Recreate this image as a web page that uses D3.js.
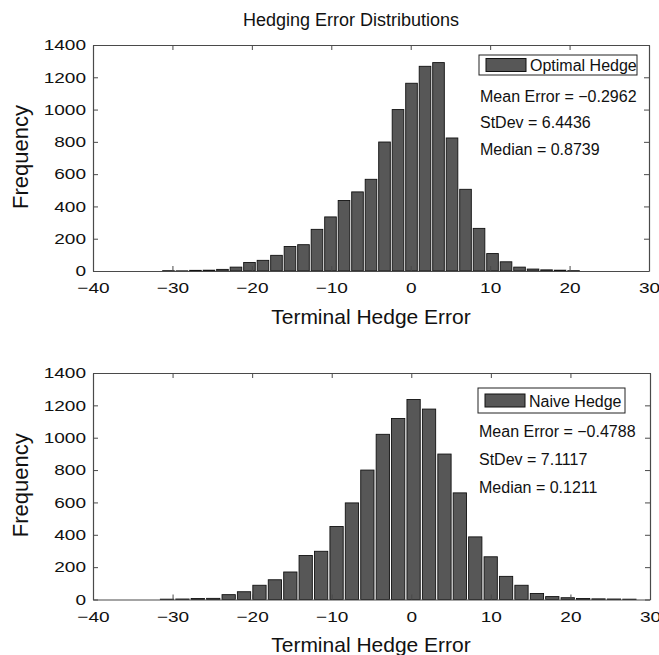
<!DOCTYPE html>
<html>
<head>
<meta charset="utf-8">
<script src="https://cdn.jsdelivr.net/npm/d3@7"></script>
<style>
  body { margin: 0; background: #fff; overflow: hidden; }
  svg text { font-family: "Liberation Sans", Arial, Helvetica, sans-serif; fill: #111; }
</style>
</head>
<body>
<div id="chart"></div>
<script>
// bin centres and counts
var optimalCenters = [-30.5, -28.8, -27.1, -25.4, -23.7, -22.0, -20.3, -18.6, -16.9, -15.2,
                      -13.5, -11.8, -10.1, -8.4, -6.7, -5.0, -3.3, -1.6, 0.1, 1.8,
                      3.5, 5.2, 6.9, 8.6, 10.3, 12.0, 13.7, 15.4, 17.1, 18.8, 20.5];
var optimalCounts = [2, 1, 4, 5, 10, 24, 53, 66, 97, 152,
                     163, 258, 335, 437, 490, 568, 799, 1000, 1163, 1268,
                     1291, 824, 506, 264, 108, 57, 24, 12, 7, 5, 2];

var naiveCenters = [-30.7, -28.76, -26.83, -24.89, -22.95, -21.02, -19.08, -17.14, -15.2, -13.27,
                    -11.33, -9.39, -7.46, -5.52, -3.58, -1.65, 0.29, 2.23, 4.17, 6.1,
                    8.04, 9.98, 11.91, 13.85, 15.79, 17.72, 19.66, 21.6, 23.53, 25.47, 27.41];
var naiveCounts = [2, 3, 6, 7, 30, 48, 88, 122, 170, 272,
                   298, 451, 597, 800, 1021, 1119, 1236, 1177, 899, 659,
                   387, 264, 143, 88, 37, 18, 11, 6, 4, 3, 2];

var xTicks = [-40, -30, -20, -10, 0, 10, 20, 30];
var yTicks = [0, 200, 400, 600, 800, 1000, 1200, 1400];

var optimalStats = ["Mean Error = \u22120.2962", "StDev = 6.4436", "Median = 0.8739"];
var naiveStats = ["Mean Error = \u22120.4788", "StDev = 7.1117", "Median = 0.1211"];

var svgWidth = 659,
    svgHeight = 655;

var svg = d3.select('#chart')
  .append('svg')
  .attr('width', svgWidth)
  .attr('height', svgHeight);

svg.append('text')
  .attr('x', 351)
  .attr('y', 26)
  .attr('text-anchor', 'middle')
  .attr('font-size', '18px')
  .text('Hedging Error Distributions');

function fmt(d) {
  return d < 0 ? '\u2212' + Math.abs(d) : String(d);
}

// tick labels in the original are drawn wider than normal
var stretch = 1.27;

function panel(opts) {
  var left = opts.left, right = opts.right, top = opts.top, bottom = opts.bottom;

  var x = d3.scaleLinear().domain([-40, 30]).range([left, right]);
  var y = d3.scaleLinear().domain([0, 1400]).range([bottom, top]);

  var g = svg.append('g');

  // bars
  var binW = opts.centers[1] - opts.centers[0];
  var barW = binW * 0.86;
  g.append('g')
    .selectAll('rect')
    .data(opts.counts)
    .enter()
    .append('rect')
    .attr('x', function(d, i) { return x(opts.centers[i] - barW / 2); })
    .attr('width', function(d, i) { return x(opts.centers[i] + barW / 2) - x(opts.centers[i] - barW / 2); })
    .attr('y', function(d) { return y(d); })
    .attr('height', function(d) { return bottom - y(d); })
    .attr('fill', '#575757')
    .attr('stroke', '#111')
    .attr('stroke-width', 0.9);

  // axes, ticks pointing inward like matlab
  var axisColor = '#4a4a4a';
  var bx = g.append('g').attr('transform', 'translate(0,' + bottom + ')')
    .call(d3.axisBottom(x).tickValues(xTicks).tickSizeInner(-5).tickSizeOuter(0).tickPadding(11.5).tickFormat(fmt));
  var tx = g.append('g').attr('transform', 'translate(0,' + top + ')')
    .call(d3.axisTop(x).tickValues(xTicks).tickSizeInner(-5).tickSizeOuter(0).tickFormat(''));
  var ly = g.append('g').attr('transform', 'translate(' + left + ',0)')
    .call(d3.axisLeft(y).tickValues(yTicks).tickSizeInner(-5).tickSizeOuter(0).tickFormat(d3.format('d')));
  var ry = g.append('g').attr('transform', 'translate(' + right + ',0)')
    .call(d3.axisRight(y).tickValues(yTicks).tickSizeInner(-5).tickSizeOuter(0).tickFormat(''));

  [bx, tx, ly, ry].forEach(function(a) {
    a.select('.domain').attr('stroke', axisColor).attr('stroke-width', 1.2);
    a.selectAll('.tick line').attr('stroke', axisColor);
    a.selectAll('.tick text').attr('font-size', '15px').attr('fill', '#111')
      .attr('font-family', '"Liberation Sans", Arial, sans-serif');
  });
  bx.selectAll('.tick text').attr('transform', 'scale(' + stretch + ',1)');
  ly.selectAll('.tick text')
    .attr('x', 0)
    .attr('transform', 'translate(-7,0) scale(' + stretch + ',1)');

  // axis labels
  g.append('text')
    .attr('x', 371)
    .attr('y', bottom + 52.5)
    .attr('text-anchor', 'middle')
    .attr('font-size', '21px')
    .text('Terminal Hedge Error');

  g.append('text')
    .attr('transform', 'translate(28,' + ((top + bottom) / 2 - 1) + ') rotate(-90)')
    .attr('text-anchor', 'middle')
    .attr('font-size', '22px')
    .text('Frequency');

  // legend
  var L = opts.legend;
  var lg = g.append('g').attr('transform', 'translate(' + L[0] + ',' + L[1] + ')');
  lg.append('rect')
    .attr('x', 0).attr('y', 0)
    .attr('width', L[2]).attr('height', L[3])
    .attr('fill', '#fff').attr('stroke', '#222').attr('stroke-width', 1);
  lg.append('rect')
    .attr('x', 7).attr('y', (L[3] - 13) / 2)
    .attr('width', 40).attr('height', 13)
    .attr('fill', '#575757').attr('stroke', '#111');
  lg.append('text')
    .attr('x', 51).attr('y', L[3] / 2 + 6)
    .attr('font-size', '16px')
    .text(opts.label);

  g.selectAll('.stat')
    .data(opts.stats)
    .enter()
    .append('text')
    .attr('class', 'stat')
    .attr('x', L[0] + 1)
    .attr('y', function(d, i) { return opts.statY + i * opts.statGap; })
    .attr('font-size', '16px')
    .text(function(d) { return d; });
}

panel({
  left: 93, right: 649, top: 45, bottom: 271,
  centers: optimalCenters, counts: optimalCounts,
  label: 'Optimal Hedge',
  legend: [479, 55, 158, 20],
  stats: optimalStats, statY: 101.5, statGap: 26.7
});

panel({
  left: 93, right: 650, top: 373, bottom: 599.5,
  centers: naiveCenters, counts: naiveCounts,
  label: 'Naive Hedge',
  legend: [478, 388, 147, 25],
  stats: naiveStats, statY: 436.5, statGap: 28.3
});
</script>
</body>
</html>
